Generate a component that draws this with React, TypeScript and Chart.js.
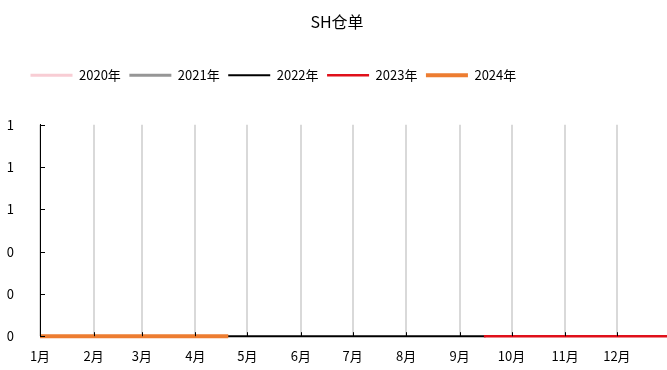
import React, { useEffect, useRef } from "react";
import { Chart, registerables } from "chart.js";

Chart.register(...registerables);

const chartTitle = "SH仓单";
const monthLabels = ["1月", "2月", "3月", "4月", "5月", "6月", "7月", "8月", "9月", "10月", "11月", "12月"];
const monthStartDays = [0, 31, 59, 90, 120, 151, 181, 212, 243, 273, 304, 334];
const seriesNames = ["2020年", "2021年", "2022年", "2023年", "2024年"];
const seriesColors = ["#f8cdd4", "#969696", "#000000", "#e0101a", "#ed7d31"];
const seriesWidths = [3, 3, 2, 2.5, 4];

// day-of-year positions and values for each series
const days2020: number[] = [];
const values2020: number[] = [];
const days2021: number[] = [];
const values2021: number[] = [];
const days2022 = [0, 31, 59, 90, 120, 151, 181, 212, 243, 258];
const values2022 = [0, 0, 0, 0, 0, 0, 0, 0, 0, 0];
const days2023 = [257, 273, 304, 334, 365];
const values2023 = [0, 0, 0, 0, 0];
const days2024 = [0, 31, 59, 90, 109];
const values2024 = [0, 0, 0, 0, 0];

const seriesDays = [days2020, days2021, days2022, days2023, days2024];
const seriesValues = [values2020, values2021, values2022, values2023, values2024];

const FONT = "'Noto Sans CJK SC', 'Liberation Sans', sans-serif";

const inwardTicks = {
  id: "inwardTicks",
  afterDatasetsDraw(chart: any) {
    const { ctx, chartArea, scales } = chart;
    const x = scales.x;
    const y = scales.y;
    ctx.save();
    ctx.strokeStyle = "#000";
    ctx.lineWidth = 1;
    x.ticks.forEach((t: any) => {
      const px = Math.round(x.getPixelForValue(t.value)) + 0.5;
      ctx.beginPath();
      ctx.moveTo(px, chartArea.bottom);
      ctx.lineTo(px, chartArea.bottom - 4);
      ctx.stroke();
    });
    y.ticks.forEach((t: any) => {
      const py = Math.round(y.getPixelForValue(t.value)) + 0.5;
      ctx.beginPath();
      ctx.moveTo(chartArea.left, py);
      ctx.lineTo(chartArea.left + 5, py);
      ctx.stroke();
    });
    ctx.restore();
  },
};

const legendPlace = {
  id: "legendPlace",
  beforeInit(chart: any) {
    const legend = chart.legend;
    if (legend && !legend.__patched) {
      const orig = legend.fit;
      legend.fit = function () {
        orig.call(this);
        this.height += 33;
      };
      legend.__patched = true;
    }
  },
  beforeDraw(chart: any) {
    if (chart.legend) chart.legend.left = 22;
  },
};

export default function App() {
  const ref = useRef<HTMLCanvasElement | null>(null);
  useEffect(() => {
    if (!ref.current) return;
    Chart.defaults.font.family = FONT;
    const datasets = seriesNames.map((name, i) => ({
      label: name,
      data: seriesDays[i].map((d, j) => ({ x: d, y: seriesValues[i][j] })),
      borderColor: seriesColors[i],
      backgroundColor: seriesColors[i],
      borderWidth: seriesWidths[i],
      pointRadius: 0,
      tension: 0,
      fill: false,
      clip: { left: 0, right: 0, top: 5, bottom: 5 },
      order: seriesNames.length - i,
    }));
    const chart = new Chart(ref.current, {
      type: "line",
      data: { datasets },
      plugins: [inwardTicks, legendPlace],
      options: {
        animation: false,
        responsive: false,
        layout: { padding: { left: 7, right: 0, top: 0, bottom: 3 } },
        plugins: {
          title: {
            display: true,
            text: chartTitle,
            color: "#000",
            font: { size: 16, weight: "normal", family: FONT },
            padding: { top: 12, bottom: 29 },
          },
          legend: {
            display: true,
            position: "top",
            align: "start",
            labels: {
              usePointStyle: true,
              pointStyle: "line",
              pointStyleWidth: 42,
              padding: 8.5,
              color: "#000",
              font: { size: 13, family: FONT },
              sort: (a: any, b: any) => a.datasetIndex - b.datasetIndex,
            },
          },
          tooltip: { enabled: false },
        },
        scales: {
          x: {
            type: "linear",
            min: 0,
            max: 363,
            afterBuildTicks: (scale: any) => {
              scale.ticks = monthStartDays.map((v) => ({ value: v }));
            },
            afterFit: (scale: any) => {
              scale.height = 28;
            },
            ticks: {
              autoSkip: false,
              maxRotation: 0,
              padding: 12,
              color: "#000",
              font: { size: 13, family: FONT },
              callback: (_v: any, i: number) => monthLabels[i],
            },
            grid: { display: true, color: "#d9d9d9", lineWidth: 2, drawTicks: false },
            border: { display: true, color: "#000", width: 1 },
          },
          y: {
            min: 0,
            max: 1,
            afterFit: (scale: any) => {
              scale.width = 33;
            },
            ticks: {
              stepSize: 0.2,
              padding: 26,
              color: "#000",
              font: { size: 13, family: FONT },
              callback: (v: any) => String(Math.round(Number(v))),
            },
            grid: { display: false, drawTicks: false },
            border: { display: true, color: "#000", width: 1 },
          },
        },
      },
    });
    return () => chart.destroy();
  }, []);
  return (
    <div style={{ position: "fixed", left: 0, top: 0, width: 667, height: 370, background: "#fff" }}>
      <canvas ref={ref} width={667} height={370} style={{ display: "block" }} />
    </div>
  );
}
